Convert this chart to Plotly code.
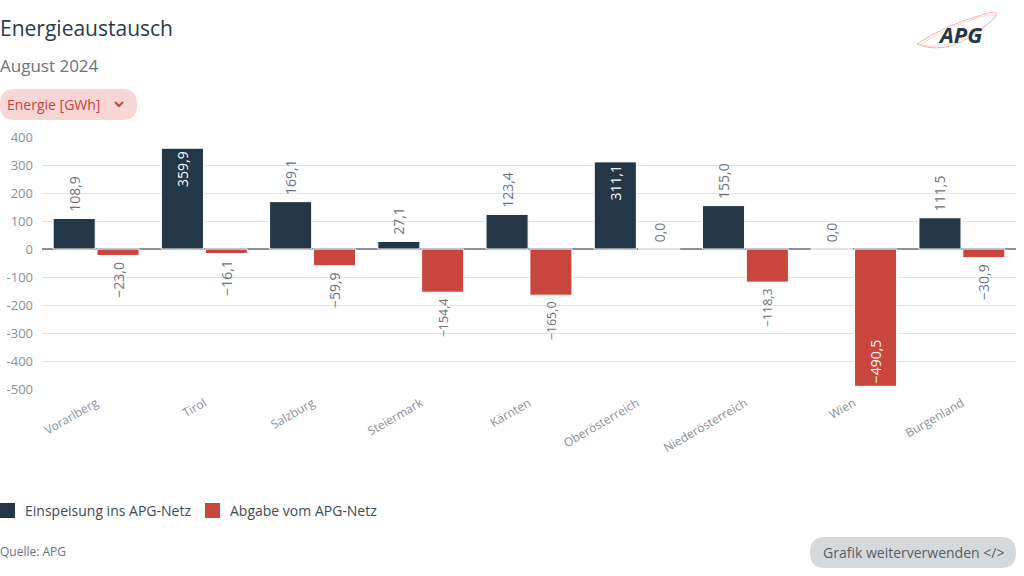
import plotly.graph_objects as go

categories = ["Vorarlberg", "Tirol", "Salzburg", "Steiermark", "Kärnten",
              "Oberösterreich", "Niederösterreich", "Wien", "Burgenland"]
einspeisung = [108.9, 359.9, 169.1, 27.1, 123.4, 311.1, 155.0, 0.0, 111.5]
abgabe = [-23.0, -16.1, -59.9, -154.4, -165.0, 0.0, -118.3, -490.5, -30.9]
y_tickvals = [400, 300, 200, 100, 0, -100, -200, -300, -400, -500]
y_ticktext = ["400", "300", "200", "100", "0", "-100", "-200", "-300", "-400", "-500"]

W, H = 1024, 576
L, R, T, B = 42, 8, 137, 187
PW, PH = W - L - R, H - T - B

def px(x):
    return (x - L) / PW

def py(y):
    return (H - B - y) / PH

def rrect(x0, y0, x1, y1, r):
    return (f"M {px(x0+r)},{py(y0)} L {px(x1-r)},{py(y0)} Q {px(x1)},{py(y0)} {px(x1)},{py(y0+r)} "
            f"L {px(x1)},{py(y1-r)} Q {px(x1)},{py(y1)} {px(x1-r)},{py(y1)} "
            f"L {px(x0+r)},{py(y1)} Q {px(x0)},{py(y1)} {px(x0)},{py(y1-r)} "
            f"L {px(x0)},{py(y0+r)} Q {px(x0)},{py(y0)} {px(x0+r)},{py(y0)} Z")

FONT = "Open Sans"
DARK = "#243746"
RED = "#c8463d"
NB = "\u00a0"

def inside(v):
    return abs(v) > 250

def labels(vals):
    out = []
    for v in vals:
        s = f"{v:.1f}".replace(".", ",").replace("-", "\u2212")
        if inside(v):
            out.append(s)
        elif v < 0:
            out.append(s + NB)
        else:
            out.append(NB + s)
    return out

def positions(vals):
    return ["inside" if inside(v) else "outside" for v in vals]

def tcolors(vals):
    return ["#ffffff" if inside(v) else "#6b7280" for v in vals]

fig = go.Figure()
for name, vals, col in [("Einspeisung ins APG-Netz", einspeisung, DARK),
                        ("Abgabe vom APG-Netz", abgabe, RED)]:
    fig.add_trace(go.Bar(
        x=categories, y=vals, name=name,
        marker=dict(color=col, line=dict(color="#ffffff", width=1)),
        text=labels(vals), texttemplate="%{text}", textposition=positions(vals), textangle=-90,
        insidetextanchor="end", textfont=dict(color=tcolors(vals), size=14, family=FONT),
        cliponaxis=False, hoverinfo="skip",
    ))

shapes = [
    dict(type="path", xref="paper", yref="paper", path=rrect(0, 89, 137, 120, 15),
         fillcolor="#f7d6d5", line=dict(width=0), layer="below"),
    dict(type="path", xref="paper", yref="paper",
         path=f"M {px(115)},{py(102)} L {px(119)},{py(106)} L {px(123)},{py(102)}",
         line=dict(color="#c8453b", width=2)),
    dict(type="path", xref="paper", yref="paper", path=rrect(810, 537, 1016, 568, 15),
         fillcolor="#d6d9dc", line=dict(width=0), layer="below"),
    dict(type="rect", xref="paper", yref="paper", x0=px(0), x1=px(15), y0=py(503), y1=py(518),
         fillcolor=DARK, line=dict(width=0)),
    dict(type="rect", xref="paper", yref="paper", x0=px(205), x1=px(220), y0=py(503), y1=py(518),
         fillcolor=RED, line=dict(width=0)),
    dict(type="path", xref="paper", yref="paper",
         path=f"M {px(917)},{py(44)} Q {px(950)},{py(58)} {px(990)},{py(22)} Q {px(1005)},{py(8)} {px(985)},{py(14)} Q {px(945)},{py(25)} {px(917)},{py(44)} Z",
         fillcolor="rgba(0,0,0,0)", line=dict(color="#e8a39d", width=0.8)),
    dict(type="path", xref="paper", yref="paper",
         path=f"M {px(920)},{py(45)} Q {px(955)},{py(52)} {px(995)},{py(18)} Q {px(1000)},{py(12)} {px(980)},{py(17)} Q {px(940)},{py(30)} {px(920)},{py(45)} Z",
         fillcolor="rgba(0,0,0,0)", line=dict(color="#f0bcb7", width=0.6)),
]

def ann(text, x, y, size, color, anchor="left", **kw):
    return dict(text=text, x=px(x), y=py(y), xref="paper", yref="paper",
                xanchor=anchor, yanchor="middle", showarrow=False,
                font=dict(size=size, color=color, family=kw.pop("family", FONT)), **kw)

annotations = [
    ann("Energieaustausch", -2, 28, 21, "#2a3a46"),
    ann("August 2024", -2, 66, 17, "#6b7280"),
    ann("Energie [GWh]", 5, 104, 14, "#c8453b"),
    ann("<b><i>APG</i></b>", 960, 34, 22, "#243746", anchor="center"),
    ann("Einspeisung ins APG-Netz", 23, 510, 14, "#3f4a55"),
    ann("Abgabe vom APG-Netz", 228, 510, 14, "#3f4a55"),
    ann("Quelle: APG", -2, 551, 12, "#6b7280"),
    ann("Grafik weiterverwenden &lt;/&gt;", 913, 552, 14, "#555d66", anchor="center"),
]

fig.update_layout(
    width=W, height=H,
    margin=dict(l=L, r=R, t=T, b=B, pad=0),
    paper_bgcolor="#ffffff", plot_bgcolor="#ffffff",
    barmode="group", bargap=0.19, bargroupgap=0.04,
    showlegend=False,
    font=dict(family=FONT, color="#6b7280"),
    shapes=shapes, annotations=annotations,
)
fig.update_xaxes(
    tickangle=-30, tickfont=dict(size=12, color="#8a9099", family=FONT),
    showgrid=False, showline=False, ticks="", ticklabelstandoff=4, fixedrange=True,
)
fig.update_yaxes(
    range=[-500, 400], tickvals=y_tickvals, ticktext=y_ticktext,
    tickfont=dict(size=13, color="#8a9099", family=FONT),
    showgrid=True, gridcolor="#e3e3e3", gridwidth=1,
    zeroline=True, zerolinecolor="#8e8e9e", zerolinewidth=1.5,
    showline=False, ticks="", ticklabelstandoff=8, fixedrange=True,
)

fig.write_html("out.html", config={"displayModeBar": False})
